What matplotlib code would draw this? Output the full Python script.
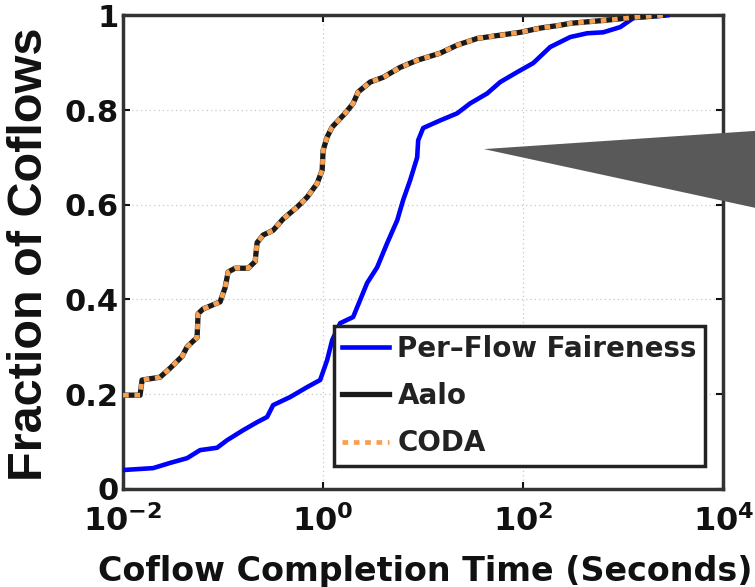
import numpy as np
import matplotlib
matplotlib.use("Agg")
import matplotlib.pyplot as plt
from matplotlib.patches import Polygon

plt.rcParams["font.family"] = ["DejaVu Sans"]
plt.rcParams["font.weight"] = "bold"
plt.rcParams["mathtext.fontset"] = "dejavusans"

# CDF points; x as log10(seconds)
pff_log_t = [-2.00, -1.70, -1.53, -1.36, -1.23, -1.06, -0.96, -0.80, -0.66, -0.56, -0.50,
             -0.33, -0.16, -0.03, 0.04, 0.09, 0.17, 0.30, 0.37, 0.44, 0.54, 0.64, 0.74,
             0.80, 0.87, 0.94, 0.95, 1.00, 1.17, 1.34, 1.47, 1.64, 1.77, 1.94, 2.10,
             2.27, 2.47, 2.64, 2.80, 2.97, 3.10, 3.44]
pff_frac = [0.040, 0.044, 0.055, 0.065, 0.082, 0.087, 0.103, 0.124, 0.141, 0.152, 0.177,
            0.194, 0.215, 0.230, 0.272, 0.314, 0.350, 0.363, 0.399, 0.435, 0.468, 0.519,
            0.567, 0.610, 0.652, 0.700, 0.736, 0.762, 0.778, 0.793, 0.814, 0.835, 0.859,
            0.880, 0.899, 0.933, 0.954, 0.962, 0.964, 0.975, 0.994, 1.000]

aalo_log_t = [-2.00, -1.83, -1.81, -1.63, -1.53, -1.41, -1.36, -1.26, -1.25, -1.20, -1.03,
              -0.98, -0.95, -0.88, -0.75, -0.68, -0.66, -0.60, -0.50, -0.40, -0.26, -0.16,
              -0.06, -0.01, 0.00, 0.04, 0.09, 0.22, 0.30, 0.35, 0.47, 0.60, 0.77, 0.94,
              1.17, 1.34, 1.54, 1.77, 1.97, 2.17, 2.37, 2.47, 2.80, 3.14, 3.40]
aalo_frac = [0.198, 0.198, 0.230, 0.236, 0.255, 0.280, 0.300, 0.320, 0.370, 0.380, 0.395,
             0.425, 0.458, 0.466, 0.466, 0.480, 0.520, 0.536, 0.546, 0.570, 0.595, 0.616,
             0.645, 0.673, 0.715, 0.743, 0.764, 0.793, 0.814, 0.838, 0.859, 0.869, 0.890,
             0.905, 0.920, 0.937, 0.951, 0.958, 0.964, 0.973, 0.979, 0.983, 0.989, 0.996,
             1.000]

# CODA sits right on top of Aalo
coda_log_t = aalo_log_t
coda_frac = aalo_frac

x_ticks = [1e-2, 1e0, 1e2, 1e4]
x_labels = [r"$\mathbf{10^{-2}}$", r"$\mathbf{10^{0}}$", r"$\mathbf{10^{2}}$", r"$\mathbf{10^{4}}$"]
y_ticks = [0, 0.2, 0.4, 0.6, 0.8, 1.0]
y_labels = ["0", "0.2", "0.4", "0.6", "0.8", "1"]

fig = plt.figure(figsize=(7.55, 5.87), dpi=100)
ax = fig.add_axes([0.163, 0.167, 0.795, 0.807])

ax.plot(10 ** np.array(pff_log_t), pff_frac, color="#0000ff", lw=3.3,
        label="Per\u2013Flow Faireness", zorder=3)
ax.plot(10 ** np.array(aalo_log_t), aalo_frac, color="#1a1a1a", lw=3.8,
        label="Aalo", zorder=4)
ax.plot(10 ** np.array(coda_log_t), coda_frac, color="#f7a050", lw=3.4,
        dashes=(1.2, 1.2), label="CODA", zorder=5)

ax.set_xscale("log")
ax.set_xlim(1e-2, 1e4)
ax.set_ylim(0, 1)
ax.set_xticks(x_ticks)
ax.set_xticklabels(x_labels)
ax.xaxis.set_minor_locator(matplotlib.ticker.NullLocator())
ax.set_yticks(y_ticks)
ax.set_yticklabels(y_labels)

ax.tick_params(axis="both", which="major", direction="in", length=5, width=1.5,
               top=True, right=True, labelsize=22, colors="#111111", pad=3)
ax.tick_params(axis="x", labelsize=23, pad=12)
ax.grid(True, which="major", color="#c8c8c8", lw=0.9, linestyle=(0, (1, 2.5)))
for s in ax.spines.values():
    s.set_linewidth(2.5)
    s.set_color("#333333")

ax.set_xlabel("Coflow Completion Time (Seconds)", fontsize=24, fontweight="bold",
              color="#111111")
ax.xaxis.set_label_coords(0.503, -0.14)
ax.set_ylabel("Fraction of Coflows", fontsize=35, fontweight="bold", color="#111111",
              family="Liberation Sans")
ax.yaxis.set_label_coords(-0.118, 0.496)

leg = ax.legend(loc="lower right", bbox_to_anchor=(0.97, 0.049), borderaxespad=0,
                fontsize=20, fancybox=False, handlelength=1.7, handletextpad=0.3,
                labelspacing=0.7, borderpad=0.3, framealpha=1)
leg.get_frame().set_edgecolor("#222222")
leg.get_frame().set_linewidth(2.5)
for t in leg.get_texts():
    t.set_fontweight("bold")
    t.set_color("#222222")

# big gray pointer coming in from the right edge
tri = Polygon([[0.641, 0.746], [1.0, 0.777], [1.0, 0.646]], closed=True,
              transform=fig.transFigure, facecolor="#595959", edgecolor="none",
              clip_on=False, zorder=10)
fig.add_artist(tri)

fig.savefig("out.png", dpi=100)
